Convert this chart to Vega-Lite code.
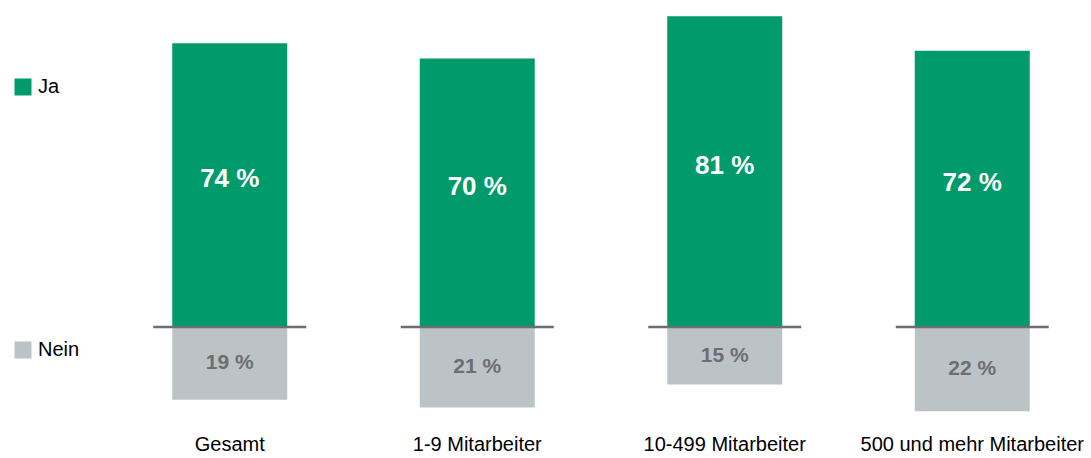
{
  "$schema": "https://vega.github.io/schema/vega-lite/v6.json",
  "width": 980,
  "height": 418,
  "autosize": "none",
  "padding": {"left": 111, "top": 1, "right": 0, "bottom": 39},
  "config": {"font": "Liberation Sans", "view": {"stroke": null}},
  "data": {
    "values": [
      {"Kategorie": "Gesamt", "Antwort": "Ja", "Wert": 74},
      {"Kategorie": "Gesamt", "Antwort": "Nein", "Wert": -19},
      {"Kategorie": "1-9 Mitarbeiter", "Antwort": "Ja", "Wert": 70},
      {"Kategorie": "1-9 Mitarbeiter", "Antwort": "Nein", "Wert": -21},
      {"Kategorie": "10-499 Mitarbeiter", "Antwort": "Ja", "Wert": 81},
      {"Kategorie": "10-499 Mitarbeiter", "Antwort": "Nein", "Wert": -15},
      {"Kategorie": "500 und mehr Mitarbeiter", "Antwort": "Ja", "Wert": 72},
      {"Kategorie": "500 und mehr Mitarbeiter", "Antwort": "Nein", "Wert": -22}
    ]
  },
  "encoding": {
    "x": {
      "field": "Kategorie",
      "type": "nominal",
      "sort": ["Gesamt", "1-9 Mitarbeiter", "10-499 Mitarbeiter", "500 und mehr Mitarbeiter"],
      "scale": {"paddingInner": 0.5354, "paddingOuter": 0.2475},
      "axis": {
        "title": null,
        "domain": false,
        "ticks": false,
        "labelAngle": 0,
        "labelFontSize": 20,
        "labelColor": "#000000",
        "labelPadding": 15,
        "labelLimit": 0,
        "labelOverlap": false,
        "labelBound": false,
        "labelFont": "Liberation Sans"
      }
    }
  },
  "layer": [
    {
      "mark": {"type": "bar"},
      "encoding": {
        "y": {
          "field": "Wert",
          "type": "quantitative",
          "scale": {"domain": [-24, 85], "nice": false, "zero": false},
          "axis": null
        },
        "color": {
          "field": "Antwort",
          "type": "nominal",
          "scale": {"domain": ["Ja", "Nein"], "range": ["#009a6b", "#bcc3c6"]},
          "legend": {
            "orient": "none",
            "legendX": -98,
            "legendY": 76,
            "title": null,
            "direction": "vertical",
            "symbolType": "square",
            "symbolSize": 289,
            "symbolStrokeWidth": 0,
            "symbolOpacity": 1,
            "labelFontSize": 20,
            "labelColor": "#000000",
            "labelFont": "Liberation Sans",
            "labelOffset": 5,
            "rowPadding": 243,
            "padding": 0
          }
        }
      }
    },
    {
      "transform": [{"filter": "datum.Antwort == 'Ja'"}],
      "mark": {"type": "tick", "size": 153, "thickness": 2.5, "color": "#6d6e72", "opacity": 1},
      "encoding": {"y": {"datum": 0, "type": "quantitative"}}
    },
    {
      "transform": [
        {"filter": "datum.Antwort == 'Ja'"},
        {"calculate": "abs(datum.Wert) + ' %'", "as": "Label"}
      ],
      "mark": {"type": "text", "fontWeight": "bold", "fontSize": 26, "color": "#ffffff", "dy": -6},
      "encoding": {
        "y": {"field": "Wert", "type": "quantitative", "stack": "zero", "bandPosition": 0.5},
        "text": {"field": "Label"}
      }
    },
    {
      "transform": [
        {"filter": "datum.Antwort == 'Nein'"},
        {"calculate": "abs(datum.Wert) + ' %'", "as": "Label"}
      ],
      "mark": {"type": "text", "fontWeight": "bold", "fontSize": 21, "color": "#6d6e72"},
      "encoding": {
        "y": {"field": "Wert", "type": "quantitative", "stack": "zero", "bandPosition": 0.5},
        "text": {"field": "Label"}
      }
    }
  ]
}
